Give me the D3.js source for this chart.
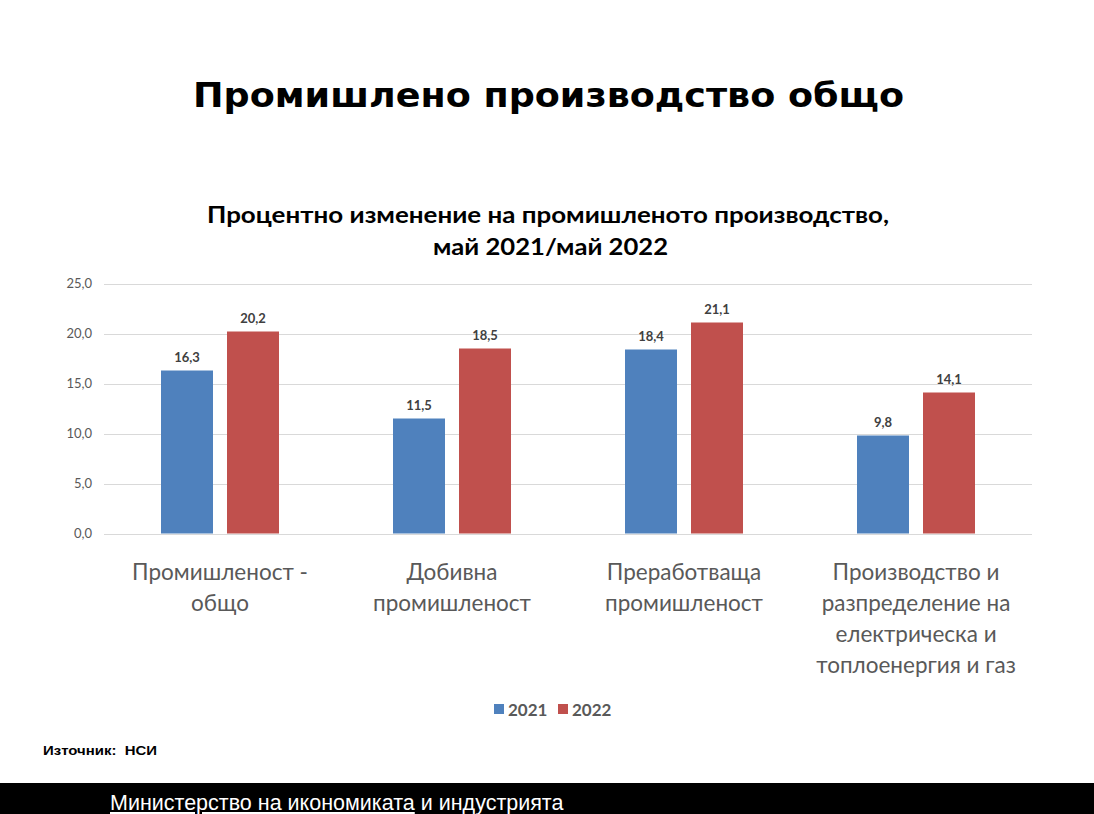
<!DOCTYPE html>
<html><head><meta charset="utf-8">
<script src="https://cdn.jsdelivr.net/npm/d3@7"></script>
<style>
body{margin:0;background:#fff;}
svg{display:block;}
</style></head>
<body>
<svg id="chart" width="1094" height="814"></svg>
<script>
const categories = [
  ["Промишленост -", "общо"],
  ["Добивна", "промишленост"],
  ["Преработваща", "промишленост"],
  ["Производство и", "разпределение на", "електрическа и", "топлоенергия и газ"]
];
const series = ["2021", "2022"];
const values2021 = [16.3, 11.5, 18.4, 9.8];
const values2022 = [20.2, 18.5, 21.1, 14.1];
const yTicks = [0, 5, 10, 15, 20, 25];
const colors = ["#4f81bd", "#c0504d"];

const svg = d3.select("#chart");
const W = 1094, H = 814;
const m = {left:104, right:1032, top:283.5, bottom:533.5};
const fmt = v => d3.format(".1f")(v).replace(".", ",");
const FONT = "Lato, 'Open Sans', sans-serif";

svg.append("rect").attr("width", W).attr("height", H).attr("fill", "#fff");

// Main title
svg.append("text").attr("x", 548.5).attr("y", 107).attr("text-anchor", "middle")
  .attr("font-family", "DejaVu Sans").attr("font-weight", "bold").attr("font-size", 34.5)
  .attr("textLength", 711).attr("lengthAdjust", "spacingAndGlyphs")
  .attr("fill", "#000").text("Промишлено производство общо");

// Chart title
const sub = svg.append("g").attr("font-family", FONT).attr("font-weight", "bold").attr("font-size", 23).attr("fill", "#000");
sub.append("text").attr("text-anchor", "middle").attr("x", 548).attr("y", 223)
  .attr("textLength", 682).attr("lengthAdjust", "spacingAndGlyphs")
  .text("Процентно изменение на промишленото производство,");
sub.append("text").attr("text-anchor", "middle").attr("x", 550.5).attr("y", 255)
  .attr("textLength", 235).attr("lengthAdjust", "spacingAndGlyphs")
  .text("май 2021/май 2022");

const x = d3.scaleBand().domain(d3.range(categories.length)).range([m.left, m.right]);
const y = d3.scaleLinear().domain([0, 25]).range([m.bottom, m.top]);

// Gridlines
svg.append("g").selectAll("line").data(yTicks).join("line")
  .attr("x1", m.left).attr("x2", m.right)
  .attr("y1", d => Math.round(y(d)) + 0.5).attr("y2", d => Math.round(y(d)) + 0.5)
  .attr("stroke", "#d9d9d9").attr("stroke-width", 1);

// Y axis labels
const yAxis = d3.axisLeft(y).tickValues(yTicks).tickFormat(fmt).tickSize(0).tickPadding(12);
const ya = svg.append("g").attr("transform", `translate(${m.left},0)`).call(yAxis);
ya.select(".domain").remove();
ya.selectAll("text").attr("font-family", FONT).attr("font-size", 13).attr("fill", "#595959");

// Bars
const barW = 52, gap = 14;
const data = categories.map((c, i) => [values2021[i], values2022[i]]);
const xs = d3.scaleBand().domain(series).range([-(barW + gap/2), barW + gap/2]).paddingInner(gap/(barW+gap));

const groups = svg.append("g").selectAll("g").data(data).join("g")
  .attr("transform", (d, i) => `translate(${x(i) + x.bandwidth()/2},0)`);
groups.selectAll("rect").data(d => d.map((v, j) => ({v, s: series[j], j}))).join("rect")
  .attr("x", d => xs(d.s)).attr("width", xs.bandwidth())
  .attr("y", d => y(d.v)).attr("height", d => y(0) - y(d.v))
  .attr("fill", d => colors[d.j]);
groups.selectAll("text.lbl").data(d => d.map((v, j) => ({v, s: series[j], j}))).join("text")
  .attr("class", "lbl")
  .attr("x", d => xs(d.s) + xs.bandwidth()/2).attr("y", d => y(d.v) - 9)
  .attr("text-anchor", "middle").attr("font-family", FONT)
  .attr("font-weight", "bold").attr("font-size", 13).attr("fill", "#404040")
  .text(d => fmt(d.v));

// Category labels
const cl = svg.append("g").selectAll("text").data(categories).join("text")
  .attr("text-anchor", "middle").attr("font-family", FONT)
  .attr("font-size", 22.5).attr("fill", "#595959");
cl.each(function(lines, i) {
  const t = d3.select(this);
  lines.forEach((ln, k) => {
    t.append("tspan").attr("x", x(i) + x.bandwidth()/2).attr("y", 580 + k*31).text(ln);
  });
});

// Legend
const leg = svg.append("g").selectAll("g").data(series).join("g")
  .attr("transform", (d, i) => `translate(${494 + i*64},704)`);
leg.append("rect").attr("width", 10).attr("height", 10).attr("fill", (d, i) => colors[i]);
leg.append("text").attr("x", 14).attr("y", 11.5).attr("font-family", FONT)
  .attr("font-weight", "bold").attr("font-size", 17).attr("fill", "#595959").text(d => d);

// Source
svg.append("text").attr("x", 43).attr("y", 755).attr("font-family", "Liberation Sans, Arial, sans-serif")
  .attr("font-weight", "bold").attr("font-size", 13).attr("fill", "#000").attr("xml:space", "preserve")
  .attr("textLength", 114).attr("lengthAdjust", "spacingAndGlyphs")
  .text("Източник:  НСИ");

// Footer bar
svg.append("rect").attr("x", 0).attr("y", 783).attr("width", W).attr("height", H - 783).attr("fill", "#000");
const ft = svg.append("text").attr("x", 110).attr("y", 810).attr("font-family", "Liberation Sans, Arial, sans-serif")
  .attr("font-size", 21.5).attr("fill", "#fff").attr("xml:space", "preserve");
ft.append("tspan").attr("text-decoration", "underline").text("Министерство на икономиката");
ft.append("tspan").text(" и индустрията");
</script>
</body></html>
